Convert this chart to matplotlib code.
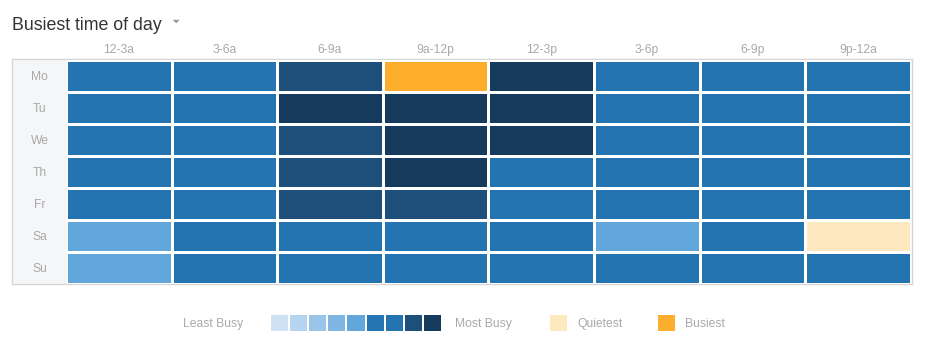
import numpy as np
import matplotlib
matplotlib.use("Agg")
import matplotlib.pyplot as plt
from matplotlib.colors import ListedColormap
from matplotlib.patches import Polygon

plt.rcParams["font.family"] = ["Liberation Sans", "DejaVu Sans"]

# data: busyness level per day / time slot
# 0..8 = blue scale (least -> most busy), -1 = quietest, 9 = busiest
days = ["Mo", "Tu", "We", "Th", "Fr", "Sa", "Su"]
slots = ["12-3a", "3-6a", "6-9a", "9a-12p", "12-3p", "3-6p", "6-9p", "9p-12a"]
levels = [
    [6, 6, 7, 9, 8, 6, 6, 6],
    [6, 6, 8, 8, 8, 6, 6, 6],
    [6, 6, 7, 8, 8, 6, 6, 6],
    [6, 6, 7, 8, 6, 6, 6, 6],
    [6, 6, 7, 7, 6, 6, 6, 6],
    [4, 6, 6, 6, 6, 4, 6, -1],
    [4, 6, 6, 6, 6, 6, 6, 6],
]

scale_colors = ["#cfe2f3", "#b4d4ef", "#9ac5e8", "#7fb5e2", "#62a7dc",
                "#2675b3", "#2474b2", "#1e4e7a", "#163a5c"]
quiet_color = "#fee8c0"
busy_color = "#fdae2d"

label_color = "#a9a9a9"

W, H = 933, 358


def fx(px):
    return px / W


def fy(py):
    return 1 - py / H


def box(l, t, r, b):
    return [fx(l), fy(b), (r - l) / W, (b - t) / H]


fig = plt.figure(figsize=(W / 100, H / 100), dpi=100)

# title + little dropdown arrow
fig.text(fx(12), fy(29.5), "Busiest time of day", fontsize=12.8,
         color="#333333", va="baseline", ha="left")
fig.add_artist(Polygon([(fx(172.7), fy(19.8)), (fx(179.7), fy(19.8)), (fx(176.2), fy(23.3))],
                       closed=True, transform=fig.transFigure, color="#999999", lw=0))

# frame with grey label column
frame = fig.add_axes(box(11.5, 58.5, 911.5, 284.2))
frame.set_xlim(0, 1)
frame.set_ylim(0, 1)
frame.set_xticks([])
frame.set_yticks([])
frame.axvspan(0, 56.0 / 900, color="#f5f6f8", lw=0)
for s in frame.spines.values():
    s.set_color("#d6d6d6")
    s.set_linewidth(1.0)

# heatmap
cmap = ListedColormap([quiet_color] + scale_colors + [busy_color])
ax = fig.add_axes(box(66.7, 59.6, 910.8, 283.6))
ax.pcolormesh(np.array(levels), cmap=cmap, vmin=-1.5, vmax=9.5,
              edgecolors="white", linewidth=0.8)
ax.patch.set_alpha(0)
ax.set_xlim(0.006, len(slots))
ax.set_ylim(len(days), 0)
ax.xaxis.tick_top()
ax.set_xticks(np.arange(len(slots)) + 0.5)
ax.set_xticklabels(slots)
ax.set_yticks(np.arange(len(days)) + 0.5)
ax.set_yticklabels(days, ha="center")
ax.tick_params(axis="x", length=0, pad=2.5, labelsize=8.7, labelcolor=label_color)
ax.tick_params(axis="y", length=0, pad=19.6, labelsize=8.7, labelcolor=label_color)
for s in ax.spines.values():
    s.set_visible(False)

# legend: blue scale
leg = fig.add_axes(box(271, 314.5, 441, 331))
leg.bar(np.arange(len(scale_colors)), 1, width=0.9, color=scale_colors)
leg.set_xlim(-0.45, len(scale_colors) - 0.55)
leg.set_ylim(0, 1)
leg.axis("off")

for (l, r), c in [((550, 567), quiet_color), ((658, 675), busy_color)]:
    a = fig.add_axes(box(l, 314.5, r, 331))
    a.bar([0], [1], width=1, color=c)
    a.set_xlim(-0.5, 0.5)
    a.set_ylim(0, 1)
    a.axis("off")

for x, t in [(183, "Least Busy"), (455, "Most Busy"), (577, "Quietest"), (685, "Busiest")]:
    fig.text(fx(x), fy(327), t, fontsize=8.7, color=label_color,
             ha="left", va="baseline")

fig.savefig("out.png", dpi=100)
